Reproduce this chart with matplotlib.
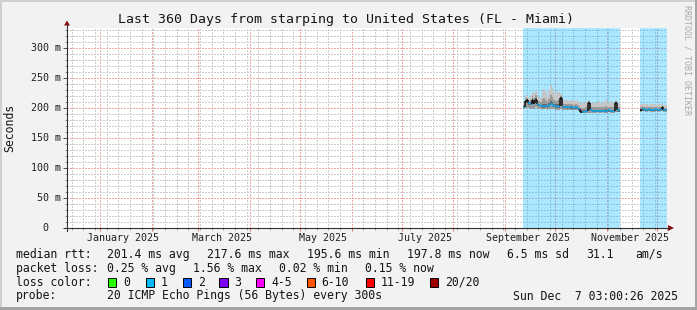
import matplotlib
matplotlib.use("Agg")
import matplotlib.pyplot as plt
import matplotlib.dates as mdates
from matplotlib.collections import LineCollection
from matplotlib.patches import Rectangle, Polygon
from matplotlib.lines import Line2D
from matplotlib.ticker import MultipleLocator
from matplotlib.transforms import blended_transform_factory
import numpy as np
from datetime import datetime, timedelta

W, H = 697, 310
plt.rcParams['font.family'] = 'DejaVu Sans Mono'

title = "Last 360 Days from starping to United States (FL - Miami)"
graph_start = datetime(2024, 12, 12, 3, 0, 26)
graph_end = datetime(2025, 12, 7, 3, 0, 26)

# shaded periods where the target was up
up_start = [datetime(2025, 9, 12), datetime(2025, 11, 21)]
up_end = [datetime(2025, 11, 9), graph_end]

# daily values, first block (Sep 12 - Nov 8), ms
seg1_first = datetime(2025, 9, 12, 12)
seg1_median = [202, 211, 214, 208, 207, 213, 209, 214, 206, 205,
               204, 203, 203, 204, 203, 204, 207, 206, 204, 203,
               202, 203, 216, 203, 202, 202, 201, 202, 201, 201,
               200, 201, 200, 199, 194, 194, 194, 195, 195, 209,
               197, 195, 195, 195, 196, 195, 195, 196, 195, 195,
               195, 196, 195, 195, 195, 209, 196, 196]
seg1_hi = [210, 222, 220, 216, 222, 227, 225, 230, 222, 218,
           216, 228, 232, 226, 220, 230, 238, 234, 226, 222,
           228, 226, 224, 218, 214, 213, 214, 212, 213, 214,
           212, 213, 211, 210, 208, 208, 209, 210, 211, 214,
           209, 208, 210, 209, 208, 211, 209, 208, 210, 213,
           208, 209, 211, 210, 209, 214, 209, 208]
seg1_lo = [198, 200, 201, 200, 199, 200, 199, 201, 199, 198,
           198, 197, 198, 198, 197, 198, 199, 199, 198, 197,
           197, 197, 198, 197, 197, 197, 196, 197, 196, 196,
           196, 196, 196, 195, 191, 191, 191, 192, 192, 192,
           192, 192, 192, 192, 193, 192, 192, 193, 192, 192,
           192, 193, 192, 192, 192, 193, 193, 193]
seg1_black = [1, 2, 5, 6, 7, 22, 34, 39, 55]

# second block (Nov 21 - Dec 6)
seg2_first = datetime(2025, 11, 21, 12)
seg2_median = [197, 198, 198, 197, 197, 198, 197, 197, 197, 198, 197, 197, 198, 201, 197, 197]
seg2_hi = [206, 208, 207, 206, 207, 205, 206, 207, 206, 205, 206, 207, 206, 208, 205, 205]
seg2_lo = [194, 195, 195, 194, 194, 195, 194, 194, 194, 195, 194, 194, 195, 195, 194, 194]
seg2_black = [0, 13]

y_ticks = [0, 50, 100, 150, 200, 250, 300]
x_labels = ["January 2025", "March 2025", "May 2025", "July 2025", "September 2025", "November 2025"]
x_label_months = [datetime(2025, m, 1) for m in (1, 3, 5, 7, 9, 11)]

stats_rtt = ["201.4 ms avg", "217.6 ms max", "195.6 ms min", "197.8 ms now", "6.5 ms sd", "31.1", "am/s"]
stats_loss = ["0.25 % avg", "1.56 % max", "0.02 % min", "0.15 % now"]
loss_labels = ["0", "1", "2", "3", "4-5", "6-10", "11-19", "20/20"]
loss_colors = ['#26ff00', '#00b8ff', '#0059ff', '#7e00ff', '#ff00ff', '#ff5500', '#ff0000', '#a10000']
probe_text = "20 ICMP Echo Pings (56 Bytes) every 300s"
stamp = "Sun Dec  7 03:00:26 2025"

BLUE = '#0aa6ee'

fig = plt.figure(figsize=(W / 100, H / 100), dpi=100)
fig.patch.set_facecolor('#F2F2F2')


def fx(px):
    return px / W


def fy(px):
    return 1 - px / H


ax = fig.add_axes([fx(67), fy(228), 600 / W, 200 / H])
ax.set_facecolor('white')
ax.set_xlim(mdates.date2num(graph_start), mdates.date2num(graph_end))
ax.set_ylim(0, 333.33)
for s in ax.spines.values():
    s.set_visible(False)

ax.xaxis.set_major_locator(mdates.MonthLocator())
ax.xaxis.set_minor_locator(mdates.WeekdayLocator(byweekday=mdates.SU))
ax.yaxis.set_major_locator(MultipleLocator(50))
ax.yaxis.set_minor_locator(MultipleLocator(10))
ax.set_axisbelow(True)
ax.grid(which='minor', color='#CDCDCD', linestyle=(0, (1, 1)), linewidth=1.0, antialiased=False)
ax.grid(which='major', color='#F2A6A6', linestyle=(0, (1, 1)), linewidth=1.0, antialiased=False)
ax.tick_params(labelleft=False, labelbottom=False)
ax.tick_params(axis='y', which='major', length=3, width=0.7, color='#505050')
ax.tick_params(axis='y', which='minor', length=1.4, width=0.7, color='#909090')
ax.tick_params(axis='x', which='major', length=2, width=0.7, color='#E07070')
ax.tick_params(axis='x', which='minor', length=1.4, width=0.7, color='#A0A0A0')

for a, b in zip(up_start, up_end):
    ax.axvspan(mdates.date2num(a), mdates.date2num(b), color='#00b8ff', alpha=0.33, lw=0, zorder=1)


def draw_block(first, med, hi, lo, black):
    med = np.array(med, float)
    hi = np.array(hi, float)
    lo = np.array(lo, float)
    t = mdates.date2num(first) + np.arange(len(med))
    xs = np.repeat(t, 2) + np.tile([-0.5, 0.5], len(t))
    r = lambda v: np.repeat(v, 2)
    ax.fill_between(xs, r(lo), r(hi), color='#C6C6C6', lw=0, zorder=1.2)
    ax.fill_between(xs, r(lo), r(med + (hi - med) * 0.45), color='#9A9A9A', lw=0, zorder=1.3)
    ax.fill_between(xs, r(np.maximum(lo, med - 2.5)), r(med + (hi - med) * 0.15),
                    color='#6A6A6A', lw=0, zorder=1.4)
    segs, cols = [], []
    for i, m in enumerate(med):
        c = '#111111' if i in black else BLUE
        if i > 0:
            cv = '#111111' if (i in black or (i - 1) in black) else BLUE
            segs.append([(t[i] - 0.5, med[i - 1]), (t[i] - 0.5, m)])
            cols.append(cv)
        segs.append([(t[i] - 0.5, m), (t[i] + 0.5, m)])
        cols.append(c)
    ax.add_collection(LineCollection(segs, colors=cols, linewidths=1.1, zorder=2,
                                     capstyle='butt'))


draw_block(seg1_first, seg1_median, seg1_hi, seg1_lo, seg1_black)
draw_block(seg2_first, seg2_median, seg2_hi, seg2_lo, seg2_black)

# y labels
ty = blended_transform_factory(fig.transFigure, ax.transData)
for v in y_ticks:
    if v:
        ax.text(fx(61), v, "%d m" % v, transform=ty, ha='right', va='center', fontsize=7.2, color='#202020')
    else:
        ax.text(fx(48), v, "0", transform=ty, ha='right', va='center', fontsize=7.2, color='#202020')

# x labels, centred mid-month like rrdtool
tx = blended_transform_factory(ax.transData, fig.transFigure)
for lab, d in zip(x_labels, x_label_months):
    ax.text(mdates.date2num(d + timedelta(days=14)), fy(237.7), lab, transform=tx,
            ha='center', va='center', fontsize=7.2, color='#202020')

# axes with arrows
ac = '#303030'
fig.add_artist(Line2D([fx(64), fx(669)], [fy(228), fy(228)], color=ac, lw=0.8))
fig.add_artist(Line2D([fx(67), fx(67)], [fy(231), fy(25)], color=ac, lw=0.8))
fig.add_artist(Polygon([(fx(668), fy(225)), (fx(674), fy(228)), (fx(668), fy(231))],
                       closed=True, color='#8a1010', lw=0))
fig.add_artist(Polygon([(fx(64), fy(25.5)), (fx(67), fy(20.5)), (fx(70), fy(25.5))],
                       closed=True, color='#8a1010', lw=0))

# frame
fig.add_artist(Rectangle((0, fy(2)), 1, 2 / H, transform=fig.transFigure, color='#D0D0D0', lw=0))
fig.add_artist(Rectangle((0, 0), 2 / W, 1, transform=fig.transFigure, color='#D0D0D0', lw=0))
fig.add_artist(Rectangle((fx(695), 0), 2 / W, 1, transform=fig.transFigure, color='#A4A4A4', lw=0))
fig.add_artist(Rectangle((0, 0), 1, 3 / H, transform=fig.transFigure, color='#A4A4A4', lw=0))

fig.text(fx(346), fy(19.3), title, ha='center', va='center', fontsize=9.5, color='#151515')
fig.text(fx(10), fy(128), "Seconds", rotation=90, ha='center', va='center', fontsize=8.3, color='#151515')
fig.text(fx(687), fy(60), "RRDTOOL / TOBI OETIKER", rotation=270, ha='center', va='center',
         fontsize=6, color='#A8A8A8')

LF = 8.3
TC = '#151515'
rows_y = [254.3, 268.3, 282.3, 296]
fig.text(fx(16), fy(rows_y[0]), "median rtt:", va='center', fontsize=LF, color=TC)
for s, x in zip(stats_rtt, [107.3, 207.3, 307.3, 407.3, 507, 586, 635]):
    fig.text(fx(x), fy(rows_y[0]), s, va='center', fontsize=LF, color=TC)
fig.text(fx(16), fy(rows_y[1]), "packet loss:", va='center', fontsize=LF, color=TC)
for s, x in zip(stats_loss, [107.3, 193.2, 279.2, 365]):
    fig.text(fx(x), fy(rows_y[1]), s, va='center', fontsize=LF, color=TC)
fig.text(fx(16), fy(rows_y[2]), "loss color:", va='center', fontsize=LF, color=TC)
box_x = [108, 145.7, 182.7, 219.3, 256, 306.7, 365.7, 430]
for lab, c, x in zip(loss_labels, loss_colors, box_x):
    fig.add_artist(Rectangle((fx(x), fy(rows_y[2] + 4.2)), 8.4 / W, 8.4 / H,
                             transform=fig.transFigure, facecolor=c, edgecolor='black', lw=0.7))
    fig.text(fx(x + 15), fy(rows_y[2]), lab, va='center', fontsize=LF, color=TC)
fig.text(fx(16), fy(rows_y[3]), "probe:", va='center', fontsize=LF, color=TC)
fig.text(fx(107.3), fy(rows_y[3]), probe_text, va='center', fontsize=LF, color=TC)
fig.text(fx(513.3), fy(rows_y[3]), stamp, va='center', fontsize=LF, color=TC)

fig.savefig("out.png", dpi=100, facecolor=fig.get_facecolor())
